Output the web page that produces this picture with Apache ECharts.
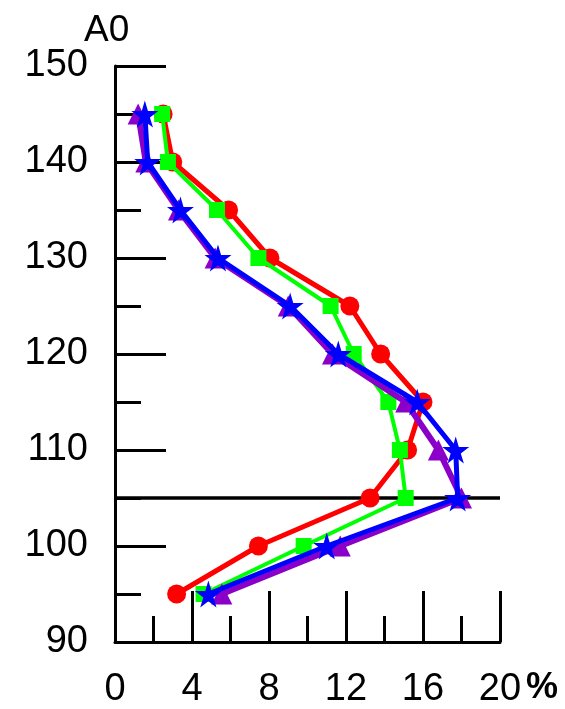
<!DOCTYPE html>
<html>
<head>
<meta charset="utf-8">
<script src="https://cdn.jsdelivr.net/npm/echarts@6/dist/echarts.min.js"></script>
<style>html,body{margin:0;padding:0;background:#fff;}#c{width:565px;height:709px;}</style>
</head>
<body>
<div id="c"></div>
<script>
const depths = [145, 140, 135, 130, 125, 120, 115, 110, 105, 100, 95];
const redVals = [2.5, 3.0, 5.9, 8.05, 12.2, 13.8, 16.0, 15.2, 13.25, 7.45, 3.2];
const greenVals = [2.45, 2.75, 5.3, 7.45, 11.2, 12.4, 14.2, 14.8, 15.1, 9.8, 4.6];
const purpleVals = [1.2, 1.6, 3.3, 5.2, 9.0, 11.3, 15.1, 16.8, 18.0, 11.7, 5.55];
const blueVals = [1.55, 1.7, 3.4, 5.35, 9.1, 11.6, 15.7, 17.7, 17.8, 11.0, 4.85];
const refLineY = 105;
const xTicks = [0, 4, 8, 12, 16, 20];
const yTicks = [90, 100, 110, 120, 130, 140, 150];

const pts = v => v.map((x, i) => [x, depths[i]]);
const star = 'path://M50,0 L61,35 L98,35 L68,57 L79,91 L50,70 L21,91 L32,57 L2,35 L39,35 Z';
const font = 'Liberation Sans, Arial, sans-serif';

const chart = echarts.init(document.getElementById('c'));
chart.setOption({
  animation: false,
  backgroundColor: '#fff',
  grid: { left: 115, right: 65, top: 66, bottom: 67 },
  xAxis: {
    type: 'value', min: 0, max: 20, interval: 4,
    axisLine: { lineStyle: { color: '#000', width: 3 } },
    axisTick: { inside: true, length: 51, lineStyle: { color: '#000', width: 3 } },
    minorTick: { show: true, splitNumber: 2, length: 26, lineStyle: { color: '#000', width: 3 } },
    splitLine: { show: false },
    axisLabel: { color: '#000', fontSize: 38, fontFamily: font, margin: 29,
      formatter: v => xTicks.includes(v) ? String(v) : '' }
  },
  yAxis: {
    type: 'value', min: 90, max: 150, interval: 10,
    axisLine: { show: true, lineStyle: { color: '#000', width: 3 } },
    axisTick: { show: true, inside: true, length: 51, lineStyle: { color: '#000', width: 3 } },
    minorTick: { show: true, splitNumber: 2, length: 26, lineStyle: { color: '#000', width: 3 } },
    splitLine: { show: false },
    axisLabel: { color: '#000', fontSize: 38, fontFamily: font, margin: 27,
      formatter: v => yTicks.includes(v) ? String(v) : '' }
  },
  graphic: [
    { type: 'text', left: 84, top: 12, style: { text: 'A0', fontSize: 37, fontFamily: font, fill: '#000' } },
    { type: 'text', left: 526, top: 670, style: { text: '%', fontSize: 36, fontWeight: 'bold', fontFamily: font, fill: '#000' } }
  ],
  series: [
    { type: 'line', data: [[0, refLineY], [20, refLineY]], symbol: 'none',
      lineStyle: { color: '#000', width: 3.5 }, z: 1, silent: true },
    { type: 'line', data: pts(redVals), symbol: 'circle', symbolSize: 19,
      itemStyle: { color: '#ff0000' }, lineStyle: { color: '#ff0000', width: 5 }, z: 2 },
    { type: 'line', data: pts(greenVals), symbol: 'rect', symbolSize: 16,
      itemStyle: { color: '#00ff00' }, lineStyle: { color: '#00ff00', width: 4 }, z: 3 },
    { type: 'line', data: pts(purpleVals), symbol: 'triangle', symbolSize: 21,
      itemStyle: { color: '#8a00c8' }, lineStyle: { color: '#8a00c8', width: 6 }, z: 4 },
    { type: 'line', data: pts(blueVals), symbol: star, symbolSize: 27,
      itemStyle: { color: '#0000ff' }, lineStyle: { color: '#0000ff', width: 5 }, z: 5 }
  ]
});
</script>
</body>
</html>
